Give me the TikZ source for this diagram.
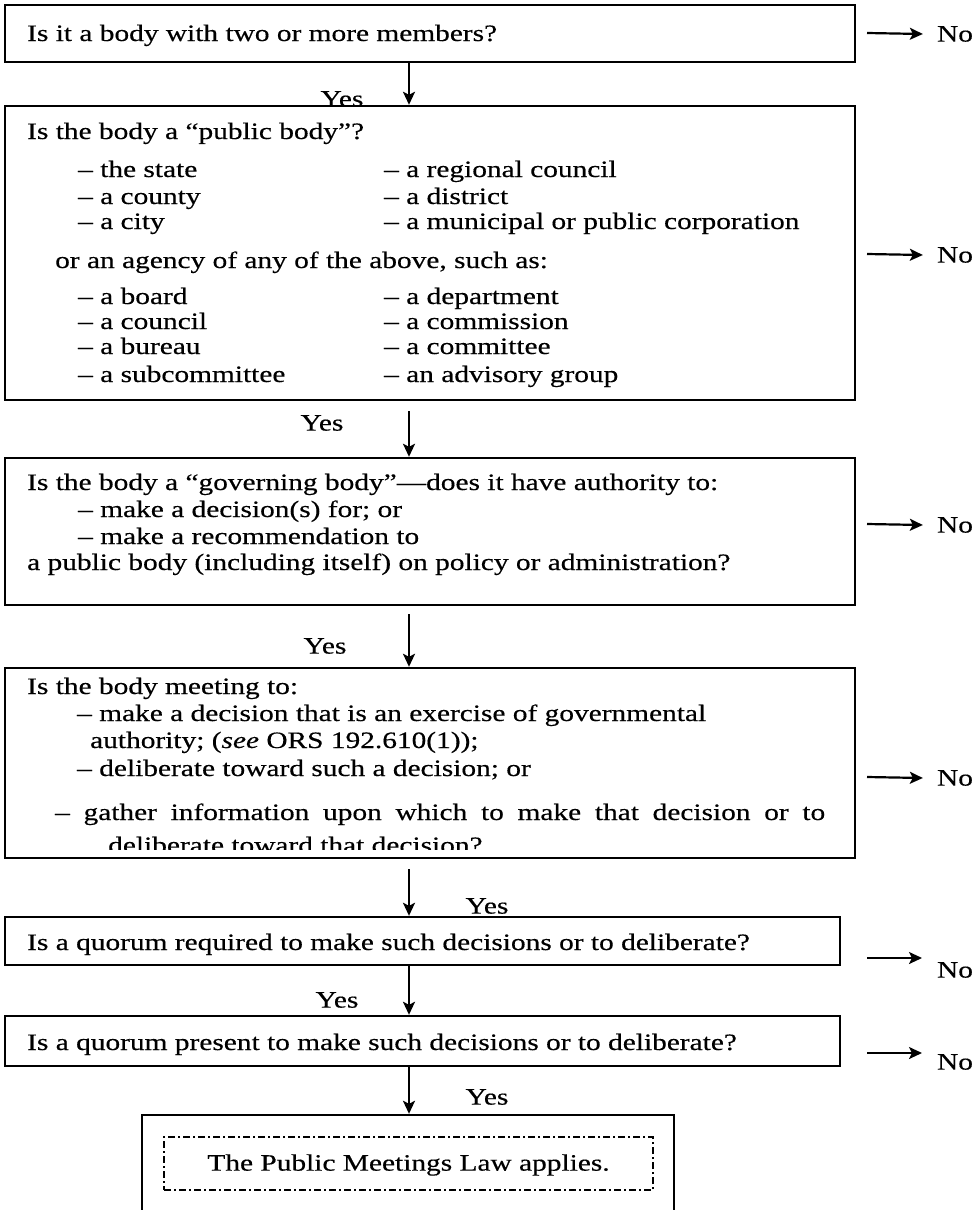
\documentclass[tikz,border=0pt]{standalone}
\usepackage{fontspec}
\setmainfont[FakeStretch=1.25,FakeBold=0.4]{Liberation Serif}
\usetikzlibrary{arrows.meta,calc}
\begin{document}
\begin{tikzpicture}[x=1pt,y=-1pt,
  qbox/.style={draw,line width=2.4pt,rectangle,inner sep=0pt},
  txt/.style={anchor=base west,inner sep=0pt,font=\fontsize{23.5}{27}\selectfont},
  lbl/.style={inner sep=0pt,font=\fontsize{23.5}{27}\selectfont},
  flow/.style={-{Stealth[length=13pt,width=12pt,inset=3pt]},line width=2.2pt}]
\useasboundingbox (0,0) rectangle (978,1210);
\fill[white] (0,0) rectangle (978,1210);
% boxes
\node[qbox,minimum width=850pt,minimum height=57pt] (b1) at (430,33.5) {};
\node[qbox,minimum width=850pt,minimum height=294pt] (b2) at (430,253) {};
\node[qbox,minimum width=850pt,minimum height=147pt] (b3) at (430,531.5) {};
\node[qbox,minimum width=850pt,minimum height=190pt] (b4) at (430,763) {};
\node[qbox,minimum width=835pt,minimum height=48pt] (b5) at (422.5,941) {};
\node[qbox,minimum width=835pt,minimum height=50pt] (b6) at (422.5,1041) {};
\node[qbox,minimum width=532pt,minimum height=110pt] (b7) at (408,1170) {};
\node[draw,line width=1.4pt,dash pattern=on 7pt off 3pt on 2pt off 3pt,rectangle,minimum width=489pt,minimum height=53pt,inner sep=0pt] (b7in) at (408.5,1163.5) {};
% texts box 1
\node[txt] (t1) at (27,41) {Is it a body with two or more members?};
% box 2
\node[txt] (t2a) at (27,139) {Is the body a “public body”?};
\node[txt] (t2b) at (78,177) {– the state};
\node[txt] (t2c) at (78,204) {– a county};
\node[txt] (t2d) at (78,229) {– a city};
\node[txt] (t2e) at (384,177) {– a regional council};
\node[txt] (t2f) at (384,204) {– a district};
\node[txt] (t2g) at (384,229) {– a municipal or public corporation};
\node[txt] (t2h) at (55,268) {or an agency of any of the above, such as:};
\node[txt] (t2i) at (78,304) {– a board};
\node[txt] (t2j) at (78,329) {– a council};
\node[txt] (t2k) at (78,354) {– a bureau};
\node[txt] (t2l) at (78,382) {– a subcommittee};
\node[txt] (t2m) at (384,304) {– a department};
\node[txt] (t2n) at (384,329) {– a commission};
\node[txt] (t2o) at (384,354) {– a committee};
\node[txt] (t2p) at (384,382) {– an advisory group};
% box 3
\node[txt] (t3a) at (27,490) {Is the body a “governing body”—does it have authority to:};
\node[txt] (t3b) at (78,517) {– make a decision(s) for; or};
\node[txt] (t3c) at (78,544) {– make a recommendation to};
\node[txt] (t3d) at (27,570) {a public body (including itself) on policy or administration?};
% box 4
\node[txt] (t4a) at (27,694) {Is the body meeting to:};
\node[txt] (t4b) at (77,721) {– make a decision that is an exercise of governmental};
\node[txt] (t4c) at (90,748) {authority; (\textit{see} ORS 192.610(1));};
\node[txt] (t4d) at (77,776) {– deliberate toward such a decision; or};
\node[txt] (t4e) at (55,820) {\makebox[770pt][s]{– gather information upon which to make that decision or to}};
\begin{scope}
\clip (5,820) rectangle (855,849);
\node[txt] (t4f) at (108,853) {deliberate toward that decision?};
\end{scope}
% box 5, 6
\node[txt] (t5) at (27,950) {Is a quorum required to make such decisions or to deliberate?};
\node[txt] (t6) at (27,1050) {Is a quorum present to make such decisions or to deliberate?};
% final
\node[lbl] (t7) at (408.5,1165) {The Public Meetings Law applies.};
% yes labels
\node[lbl] (y1) at (342,99) {Yes};
\node[lbl] (y2) at (322,423) {Yes};
\node[lbl] (y3) at (325,646) {Yes};
\node[lbl] (y4) at (487,906) {Yes};
\node[lbl] (y5) at (337,1000) {Yes};
\node[lbl] (y6) at (487,1097) {Yes};
% no labels
\node[lbl] (n1) at (955,34) {No};
\node[lbl] (n2) at (955,255) {No};
\node[lbl] (n3) at (955,525) {No};
\node[lbl] (n4) at (955,778) {No};
\node[lbl] (n5) at (955,970) {No};
\node[lbl] (n6) at (955,1062) {No};
% arrow column
\coordinate (ax) at (409,0);
\draw[flow] (b1.south -| ax) -- (b2.north -| ax);
\draw[flow] ($(b2.south -| ax)+(0,10)$) -- (b3.north -| ax);
\draw[flow] ($(b3.south -| ax)+(0,8)$) -- (b4.north -| ax);
\draw[flow] ($(b4.south -| ax)+(0,10)$) -- (b5.north -| ax);
\draw[flow] (b5.south -| ax) -- (b6.north -| ax);
\draw[flow] (b6.south -| ax) -- (b7.north -| ax);
% no arrows
\coordinate (s1) at (867,33);
\coordinate (s2) at (867,254);
\coordinate (s3) at (867,524);
\coordinate (s4) at (867,777);
\coordinate (s5) at (867,958);
\coordinate (s6) at (867,1053);
\draw[flow] (s1) -- ($(n1.west)+(-14,0)$);
\draw[flow] (s2) -- ($(n2.west)+(-14,0)$);
\draw[flow] (s3) -- ($(n3.west)+(-14,0)$);
\draw[flow] (s4) -- ($(n4.west)+(-14,0)$);
\draw[flow] (s5) -- ($(s5)+(55,0)$);
\draw[flow] (s6) -- ($(s6)+(55,0)$);
\end{tikzpicture}
\end{document}
